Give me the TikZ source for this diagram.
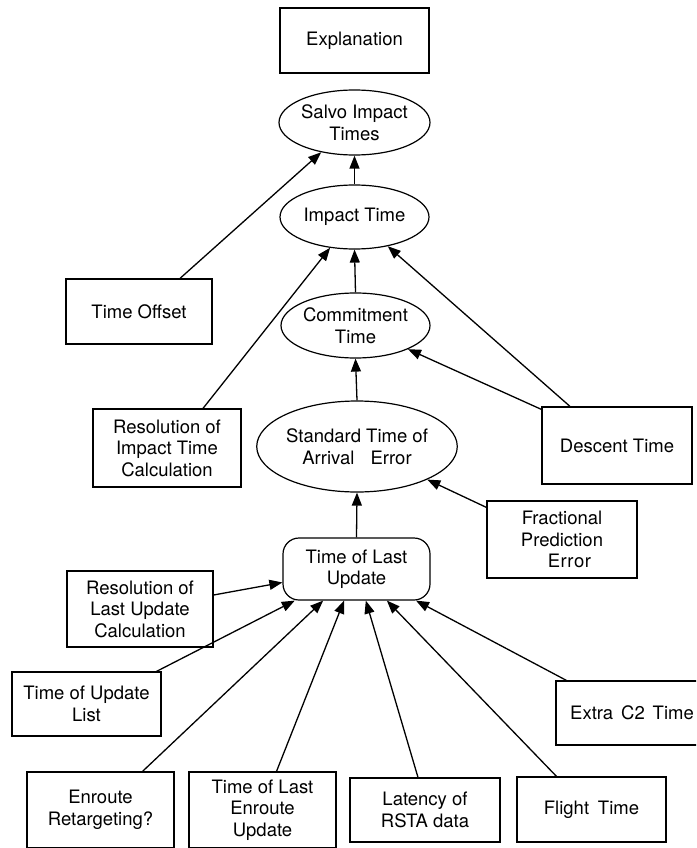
\documentclass[tikz,border=0pt]{standalone}
\usepackage{fontspec}
\setmainfont{TeX Gyre Heros}
\usetikzlibrary{arrows.meta,shapes.geometric,calc}
\begin{document}
\begin{tikzpicture}[x=1pt,y=-1pt,
  lbl/.style={font=\fontsize{18.5}{21.5}\selectfont, align=center, inner sep=0pt, line width=1.2pt, draw=black},
  boxnode/.style={lbl, rectangle},
  ellnode/.style={lbl, ellipse},
  roundnode/.style={lbl, rectangle, rounded corners=16pt},
  arr/.style={line width=1.3pt, -{Triangle[length=13pt,width=10pt]}}]
\useasboundingbox (0,0) rectangle (696,848);
\clip (0,0) rectangle (696,848);
\fill[white] (0,0) rectangle (696,848);

\node[boxnode, minimum width=149pt, minimum height=65pt] (expl) at (354.5,40.5) {Explanation};
\node[ellnode, minimum width=151pt, minimum height=65pt] (salvo) at (354.5,122.5) {Salvo Impact\\Times};
\node[ellnode, minimum width=149pt, minimum height=64pt] (imp) at (354.5,217) {Impact Time};
\node[ellnode, minimum width=149pt, minimum height=65pt] (commit) at (355.5,325.5) {Commitment\\Time};
\node[ellnode, minimum width=176pt, minimum height=91pt] (std) at (357,446.5) {Standard Time of\\Arrival\hspace{0.6em} Error};
\node[roundnode, minimum width=147pt, minimum height=62pt] (tlu) at (356.5,569) {Time of Last\\Update};

\node[boxnode, minimum width=146pt, minimum height=65pt] (toff) at (139,311.5) {Time Offset};
\node[boxnode, minimum width=148pt, minimum height=78pt] (resimp) at (167,448) {Resolution of\\Impact Time\\Calculation};
\node[boxnode, minimum width=150pt, minimum height=77pt] (desc) at (617,445.5) {Descent Time};
\node[boxnode, minimum width=150pt, minimum height=77pt] (frac) at (562,539.5) {Fractional\\Prediction\\\hspace{0.8em}E\kern0.5pt r\kern0.5pt r\kern0.5pt o\kern0.5pt r};
\node[boxnode, minimum width=146pt, minimum height=76pt] (reslu) at (140,609) {Resolution of\\Last Update\\Calculation};
\node[boxnode, minimum width=149pt, minimum height=64pt] (tul) at (86.5,704) {Time of Update\\List};
\node[boxnode, minimum width=147pt, minimum height=76pt] (enr) at (100.5,810) {Enroute\\Retargeting?};
\node[boxnode, minimum width=147pt, minimum height=76pt] (tleu) at (262.5,810) {Time of Last\\Enroute\\Update};
\node[boxnode, minimum width=150pt, minimum height=64pt] (lat) at (425,810) {Latency of\\RSTA data};
\node[boxnode, minimum width=149pt, minimum height=65pt] (flt) at (591.5,809.5) {Flight\hspace{0.2em} Time};
\node[boxnode, minimum width=152pt, minimum height=64pt] (extra) at (632,713) {Extra\hspace{0.15em} C2\hspace{0.15em} Time};

% vertical chain
\draw[arr] (imp.north) -- (salvo.south);
\draw[arr] (commit.north) -- (imp.south);
\draw[arr] (std.north) -- (commit.south);
\draw[arr] (tlu.north) -- (std.south);

% side inputs
\draw[arr] ($(toff.north)+(41,0)$) -- (salvo);
\draw[arr] ($(resimp.north)+(36,0)$) -- (imp);
\draw[arr] ($(desc.north)+(-47,0)$) -- (imp);
\draw[arr] ($(desc.north west)+(0,3)$) -- (commit);
\draw[arr] ($(frac.north west)+(0,7)$) -- (std);

% inputs to Time of Last Update
\draw[arr] ($(reslu.east)+(0,-14)$) -- (tlu);
\draw[arr] ($(tul.north)+(70,0)$) -- (tlu);
\draw[arr] ($(enr.north)+(42,0)$) -- (tlu);
\draw[arr] ($(tleu.north)+(14,0)$) -- (tlu);
\draw[arr] ($(lat.north)+(-7,0)$) -- (tlu);
\draw[arr] ($(flt.north)+(-35,0)$) -- (tlu);
\draw[arr] ($(extra.north west)+(11,0)$) -- (tlu);
\end{tikzpicture}
\end{document}
